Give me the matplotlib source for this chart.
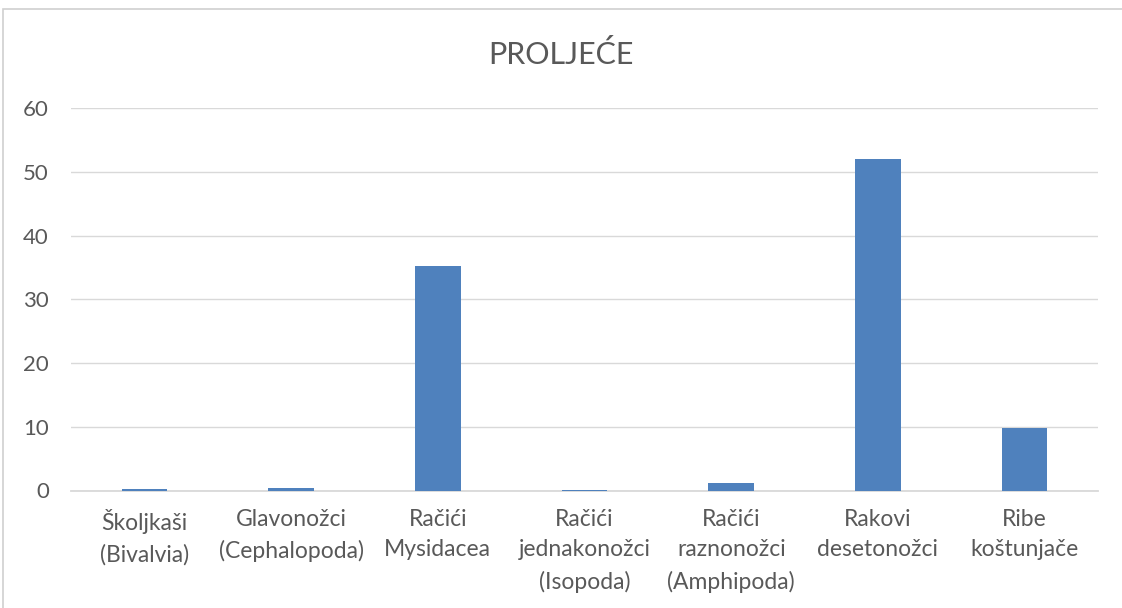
import matplotlib.pyplot as plt
import matplotlib.patches as mpatches

categories = [
    "Školjkaši\n(Bivalvia)",
    "Glavonožci\n(Cephalopoda)",
    "Račići\nMysidacea",
    "Račići\njednakonožci\n(Isopoda)",
    "Račići\nraznonožci\n(Amphipoda)",
    "Rakovi\ndesetonožci",
    "Ribe\nkoštunjače",
]
values = [0.25, 0.45, 35.2, 0.1, 1.2, 52.1, 9.8]
y_ticks = [0, 10, 20, 30, 40, 50, 60]

text_color = "#595959"
grid_color = "#d9d9d9"
plt.rcParams["font.family"] = ["Lato", "DejaVu Sans"]

fig = plt.figure(figsize=(11.22, 6.08), dpi=100)

# outer chart frame (cut at right and bottom like the screenshot)
frame = mpatches.Rectangle((3 / 1122, -0.1), 1.2, 1 - 9 / 608 + 0.1,
                           transform=fig.transFigure, fill=False,
                           edgecolor="#d0d0d0", linewidth=1.2)
fig.patches.append(frame)

ax = fig.add_axes([71 / 1122, 1 - 490.5 / 608, (1098 - 71) / 1122, (490.5 - 108.3) / 608])

x = range(len(categories))
ax.bar(x, values, width=0.31, color="#4F81BD", zorder=3)

ax.set_xlim(-0.5, len(categories) - 0.5)
ax.set_ylim(0, 60)
ax.set_yticks(y_ticks)
ax.set_xticks(list(x))
ax.set_xticklabels(categories, fontsize=16.5, color=text_color, linespacing=1.58)
ax.tick_params(axis="y", length=0, pad=16, labelsize=16, labelcolor=text_color)
ax.tick_params(axis="x", length=0, pad=13)

ax.grid(axis="y", color=grid_color, linewidth=1, zorder=0)
for side in ["top", "right", "left"]:
    ax.spines[side].set_visible(False)
ax.spines["bottom"].set_color(grid_color)
ax.spines["bottom"].set_linewidth(1.3)

fig.text(0.5, 1 - 55 / 608, "PROLJEĆE", ha="center", va="center",
         fontsize=22, color=text_color)

fig.savefig("out.png", dpi=100)
